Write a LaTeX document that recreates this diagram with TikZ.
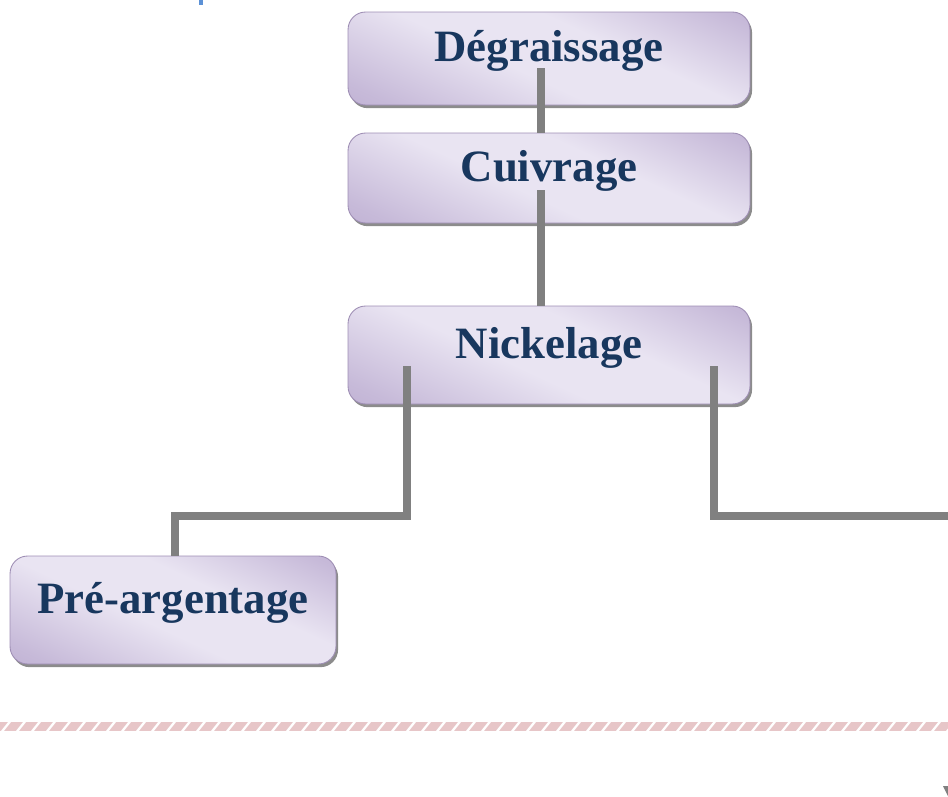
\documentclass[tikz,border=0pt]{standalone}
\usepackage{fontspec}
\setmainfont{Liberation Serif}
\usetikzlibrary{shadows}
\definecolor{stepDark}{RGB}{176,158,200}
\definecolor{stepLight}{RGB}{233,228,242}
\definecolor{stepText}{RGB}{24,55,94}
\definecolor{linkGrey}{RGB}{128,128,128}
\definecolor{rulePink}{RGB}{231,198,200}
\definecolor{markBlue}{RGB}{92,145,214}
\pgfdeclareverticalshading{stepglow}{100bp}{color(0bp)=(stepDark); color(22bp)=(stepDark!60!stepLight); color(44bp)=(stepLight); color(60bp)=(stepLight); color(80bp)=(stepDark!60!stepLight); color(100bp)=(stepDark)}
\tikzset{flowchart/.style={
  stepbox/.style={rounded corners=10pt, shading=stepglow, shading angle=-25, draw=stepDark!90!black, line width=0.5pt,
    general shadow={shadow xshift=1.2pt, shadow yshift=-1.8pt, fill=black!45},
    font=\fontsize{25.5}{30}\selectfont\bfseries, text=stepText, inner sep=0pt,
    text height=0.62cm, text depth=0.5cm},
  link/.style={line width=4pt, linkGrey},
}}

\begin{document}
\begin{tikzpicture}[flowchart, x=0.02cm, y=-0.02cm]
\useasboundingbox (0,0) rectangle (948,796);

% ---- process steps ----
\node[stepbox, minimum width=8.04cm, minimum height=1.86cm] (degr) at (549,58.5) {Dégraissage};
\node[stepbox, minimum width=8.04cm, minimum height=1.80cm] (cuiv) at (549,178) {Cuivrage};
\node[stepbox, minimum width=8.04cm, minimum height=1.96cm] (nick) at (549,355) {Nickelage};
\node[stepbox, minimum width=6.52cm, minimum height=2.16cm] (prearg) at (173,610) {Pré-argentage};

% ---- connector ends ----
\coordinate (degr-out) at (541,68);
\coordinate (cuiv-out) at (541,190);
\coordinate (nick-left) at (407,366);
\coordinate (nick-right) at (714,366);
\coordinate (right-end) at (948,516);

% ---- links ----
\draw[link] (degr-out) -- (degr-out |- cuiv.north);
\draw[link] (cuiv-out) -- (cuiv-out |- nick.north);
\draw[link] (nick-left) |- (175,516) -- (175,516 |- prearg.north);
\draw[link] (nick-right) |- (right-end);

% ---- hatched rule ----
\begin{scope}
  \clip (0,722) rectangle (948,731);
  \fill[rulePink] (0,722) rectangle (948,731);
  \foreach \k in {0,15,...,960}
    \draw[white, line width=1.3pt] (\k,734) -- (\k+12,719);
\end{scope}

% ---- cut-off marks at the edges ----
\fill[markBlue] (199,0) rectangle (203,5);
\fill[linkGrey] (943,786) -- (948,786) -- (948,796) -- cycle;

\end{tikzpicture}
\end{document}
